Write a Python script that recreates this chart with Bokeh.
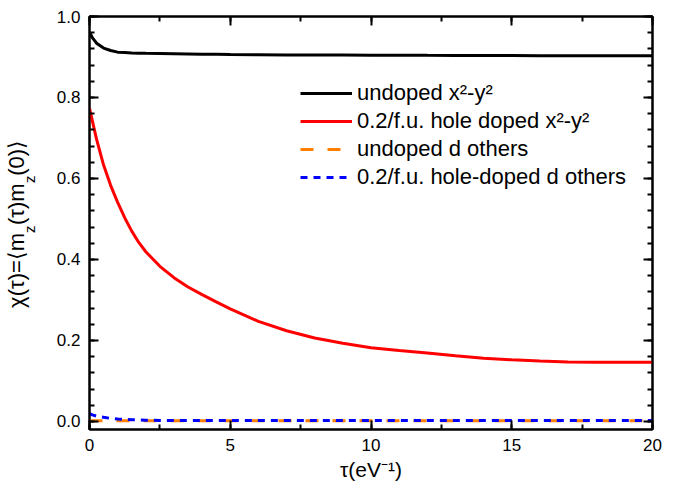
from bokeh.plotting import figure
from bokeh.models import (Range1d, SingleIntervalTicker, FixedTicker, LinearAxis, Legend,
                          LegendItem, PrintfTickFormatter)
from bokeh.embed import file_html
from bokeh.resources import INLINE

# ---- data ----
tau = [0, 0.1, 0.25, 0.5, 0.75, 1.0, 1.25, 1.5, 1.75, 2.0, 2.5, 3.0, 3.5, 4.0, 4.5, 5.0,
       6, 7, 8, 9, 10, 11, 12, 13, 14, 15, 16, 17, 18, 19, 20]
undoped_x2y2 = [0.961, 0.948, 0.934, 0.922, 0.916, 0.912, 0.911, 0.910, 0.9095, 0.909,
                0.9085, 0.908, 0.9075, 0.907, 0.9065, 0.906, 0.9055, 0.905, 0.905, 0.9048,
                0.9045, 0.9043, 0.904, 0.9038, 0.9036, 0.9035, 0.9033, 0.9032, 0.903, 0.903,
                0.903]
hole_doped_x2y2 = [0.773, 0.743, 0.697, 0.633, 0.583, 0.541, 0.503, 0.470, 0.442, 0.419,
                   0.383, 0.355, 0.332, 0.313, 0.295, 0.278, 0.247, 0.224, 0.206, 0.193,
                   0.182, 0.175, 0.169, 0.162, 0.156, 0.152, 0.149, 0.147, 0.146, 0.146,
                   0.146]
undoped_d_others = [0.0015] * len(tau)
hole_doped_d_others = [0.019, 0.016, 0.013, 0.010, 0.0075, 0.006, 0.005, 0.004, 0.0035, 0.003,
                       0.0025, 0.0022, 0.002, 0.002, 0.002, 0.002, 0.002, 0.002, 0.002, 0.002,
                       0.002, 0.002, 0.002, 0.002, 0.002, 0.002, 0.002, 0.002, 0.002, 0.002,
                       0.002]

legend_labels = ["undoped x\u00b2-y\u00b2",
                 "0.2/f.u. hole doped x\u00b2-y\u00b2",
                 "undoped d others",
                 "0.2/f.u. hole-doped d others"]
x_label = "\u03c4(eV\u207b\u00b9)"
# y-axis label pieces: main text and subscript "z"
y_label_main = ["\u03c7(\u03c4)=\u27e8m", "(\u03c4)m", "(0)\u27e9"]
y_label_sub = ["z", "z"]

FONT = "Liberation Sans"

p = figure(width=672, height=483, output_backend="svg", toolbar_location=None,
           x_range=Range1d(0, 20), y_range=Range1d(-0.02, 1.0),
           min_border_left=89, min_border_right=20, min_border_top=16, min_border_bottom=53)
p.grid.visible = False
p.outline_line_color = "black"
p.outline_line_width = 2
p.background_fill_color = "white"
p.border_fill_color = "white"

r_orange = p.line(tau, undoped_d_others, line_color="#ff8000", line_width=3, line_dash="13 14")
r_blue = p.line(tau, hole_doped_d_others, line_color="#0000ff", line_width=3, line_dash="7 6")
r_red = p.line(tau, hole_doped_x2y2, line_color="#ff0000", line_width=3)
r_black = p.line(tau, undoped_x2y2, line_color="black", line_width=3)

def style_axis(ax, show_labels=True):
    ax.axis_line_width = 2
    ax.major_tick_line_width = 2
    ax.minor_tick_line_width = 2
    ax.major_tick_in = 9
    ax.major_tick_out = 0
    ax.minor_tick_in = 5
    ax.minor_tick_out = 0
    ax.major_label_text_font = FONT
    if show_labels:
        ax.major_label_text_font_size = "17px"
        ax.major_label_text_color = "black"
        ax.major_label_standoff = 9
    else:
        ax.major_label_text_font_size = "0px"
        ax.major_label_text_color = None
        ax.major_label_standoff = 0

xb = p.xaxis[0]
xb.ticker = SingleIntervalTicker(interval=5, num_minor_ticks=2)
style_axis(xb)
xb.axis_label = x_label
xb.axis_label_text_font = FONT
xb.axis_label_text_font_size = "21px"
xb.axis_label_text_font_style = "normal"
xb.axis_label_text_color = "black"
xb.axis_label_standoff = 4

yl = p.yaxis[0]
yl.ticker = SingleIntervalTicker(interval=0.2, num_minor_ticks=5)
yl.formatter = PrintfTickFormatter(format="%.1f")
style_axis(yl)

xt = LinearAxis(ticker=SingleIntervalTicker(interval=5, num_minor_ticks=2))
style_axis(xt, False)
p.add_layout(xt, "above")
yr = LinearAxis(ticker=SingleIntervalTicker(interval=0.2, num_minor_ticks=5))
style_axis(yr, False)
p.add_layout(yr, "right")

# y-axis title drawn as tick labels of two bare axes (so the subscripts can be placed)
main_pos = [0.373, 0.5363, 0.651]
sub_pos = [0.4746, 0.598]

def label_axis(positions, texts, size, standoff):
    ax = LinearAxis(ticker=FixedTicker(ticks=positions, minor_ticks=[]),
                    major_label_overrides={pos: t for pos, t in zip(positions, texts)},
                    major_label_orientation="parallel")
    ax.axis_line_color = None
    ax.major_tick_line_color = None
    ax.minor_tick_line_color = None
    ax.major_tick_in = 0
    ax.major_tick_out = 0
    ax.minor_tick_in = 0
    ax.minor_tick_out = 0
    ax.major_label_text_font = FONT
    ax.major_label_text_font_size = size
    ax.major_label_text_color = "black"
    ax.major_label_standoff = standoff
    return ax

p.add_layout(label_axis(sub_pos, y_label_sub, "15px", 15), "left")
p.add_layout(label_axis(main_pos, y_label_main, "22px", -11), "left")

legend = Legend(items=[LegendItem(label=legend_labels[0], renderers=[r_black]),
                       LegendItem(label=legend_labels[1], renderers=[r_red]),
                       LegendItem(label=legend_labels[2], renderers=[r_orange]),
                       LegendItem(label=legend_labels[3], renderers=[r_blue])],
                location=(211, 238), orientation="vertical")
legend.border_line_color = None
legend.background_fill_alpha = 0
legend.padding = 0
legend.margin = 0
legend.spacing = 0
legend.glyph_width = 52
legend.glyph_height = 28
legend.label_height = 28
legend.label_standoff = 5
legend.label_text_font = FONT
legend.label_text_font_size = "22px"
legend.label_text_color = "black"
p.add_layout(legend)

open("out.html", "w").write(file_html(p, INLINE))
